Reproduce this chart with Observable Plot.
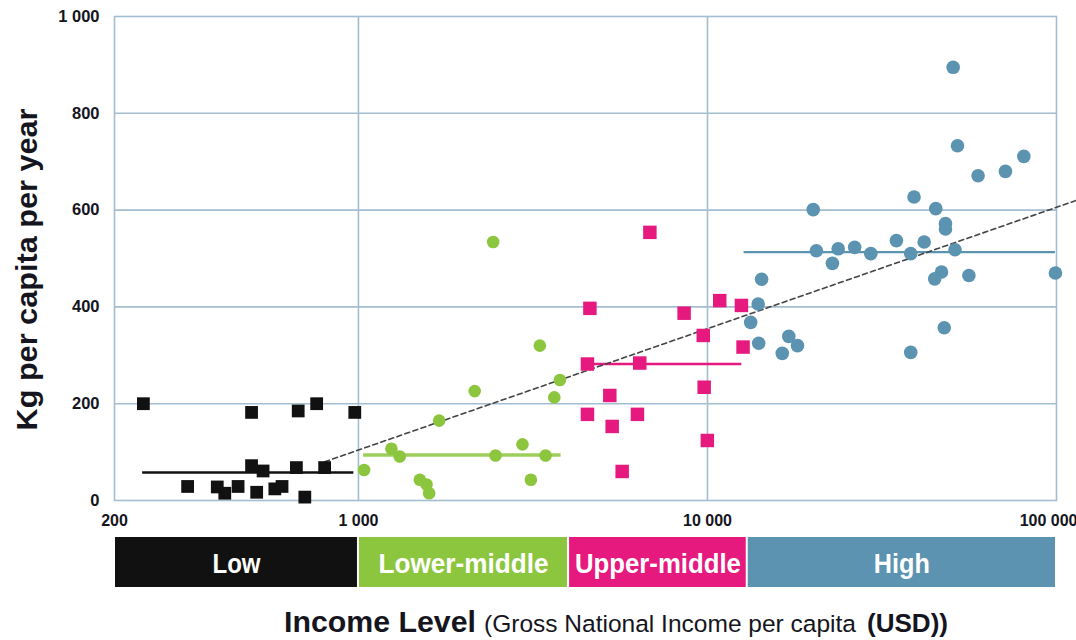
<!DOCTYPE html>
<html>
<head>
<meta charset="utf-8">
<script src="https://cdn.jsdelivr.net/npm/d3@7"></script>
<script src="https://cdn.jsdelivr.net/npm/@observablehq/plot@0.6"></script>
<style>
  html, body { margin: 0; padding: 0; background: #fff; }
  #wrap { position: relative; width: 1076px; height: 640px; overflow: hidden; }
  #wrap svg { display: block; }
  #title { position: absolute; left: 0; top: 590px; }
</style>
</head>
<body>
<div id="wrap"></div>
<script>
// ---- Data ----
const levels = ["Low", "Lower-middle", "Upper-middle", "High"];
const levelColors = ["#111111", "#8cc63f", "#e6197e", "#5b93b1"];

const lowIncome = [242, 494, 672, 759, 976, 494, 533, 664, 800, 324, 394, 414, 452, 511, 576, 604, 702];
const lowKg     = [200, 182, 185, 200, 182, 72, 61, 68, 68, 29, 28, 15, 29, 17, 24, 29, 7];

const lowerMidIncome = [2432, 3309, 3778, 3640, 2153, 1703, 1243, 1313, 2470, 2951, 3436, 1038, 1499, 1567, 1594, 3119];
const lowerMidKg     = [534, 320, 249, 213, 226, 165, 107, 91, 93, 116, 93, 63, 43, 33, 15, 43];

const upperMidIncome = [6839, 4604, 8571, 10842, 12510, 9726, 12646, 4530, 6397, 9784, 5250, 4530, 6301, 5333, 9990, 5696];
const upperMidKg     = [554, 397, 387, 413, 403, 341, 317, 282, 284, 234, 217, 178, 178, 153, 124, 60];

const highIncome = [50570, 52040, 59600, 71400, 80600, 39070, 45090, 48070, 48070, 20090, 34780, 41770, 51200, 38230, 20510, 23690, 26410, 29370, 22800, 46830, 44770, 56100, 99300, 47680, 38230, 14290, 13970, 13300, 14020, 17100, 18110, 16380];
const highKg     = [895, 733, 671, 680, 711, 627, 603, 572, 561, 601, 537, 534, 518, 510, 516, 520, 523, 510, 490, 472, 458, 465, 470, 357, 306, 457, 406, 368, 325, 339, 320, 304];

// group average lines
const avgStart = [240, 1031, 4430, 12690];
const avgEnd   = [967, 3794, 12500, 99000];
const avgKg    = [58, 94, 282, 513];

// trend line (log fit) end points
const trendIncome = [800, 115000];
const trendKg     = [80, 621];

// income bands for the legend bar
const bandFrom = [200, 1000, 4000, 13000];
const bandTo   = [1000, 4000, 13000, 100000];

const xTicks = [200, 1000, 10000];
const xLastTick = [100000];
const yTicks = [0, 200, 400, 600, 800, 1000];
const xGrid = [1000, 10000];
const yGrid = [200, 400, 600, 800];

const yTitle = "Kg per capita per year";
const xTitleMain = "Income Level";
const xTitleSub = "(Gross National Income per capita";
const xTitleUnit = "(USD))";

// ---- styling constants (not data) ----
const barLabelWidths = [48, 170, 166, 56];
const grid = "#a3bdd1";
const ink = "#151520";

// ---- Build tables ----
const zipPts = (xs, ys) => xs.map((x, i) => ({income: x, kg: ys[i]}));
const lowPts = zipPts(lowIncome, lowKg);
const lmPts = zipPts(lowerMidIncome, lowerMidKg);
const umPts = zipPts(upperMidIncome, upperMidKg);
const hiPts = zipPts(highIncome, highKg);
const avgs = levels.map((l, i) => ({level: l, x1: avgStart[i], x2: avgEnd[i], kg: avgKg[i], color: levelColors[i]}));
const trend = trendIncome.map((x, i) => ({income: x, kg: trendKg[i]}));
const bands = levels.map((l, i) => ({level: l, x1: bandFrom[i], x2: bandTo[i], mid: Math.sqrt(bandFrom[i] * bandTo[i]), color: levelColors[i]}));

const fmt = d => d3.format(",")(d).replace(/,/g, " ");

const chart = Plot.plot({
  width: 1076,
  height: 530,
  marginTop: 16,
  marginBottom: 30,
  marginLeft: 114,
  marginRight: 20,
  style: {fontFamily: "'Liberation Sans', Arial, sans-serif", fontSize: "16px", fontWeight: "bold", color: ink, background: "white", overflow: "visible"},
  x: {type: "log", domain: [200, 100000], label: null},
  y: {domain: [0, 1000], label: null},
  color: {type: "identity"},
  marks: [
    Plot.ruleY(yGrid, {stroke: grid, strokeWidth: 1.6}),
    Plot.ruleX(xGrid, {stroke: grid, strokeWidth: 1.6}),
    Plot.frame({stroke: grid, strokeWidth: 1.6}),
    Plot.axisY({ticks: yTicks, tickFormat: fmt, tickSize: 0, tickPadding: 15, label: null, fontSize: 16.5}),
    Plot.axisX({ticks: xTicks, tickFormat: fmt, tickSize: 0, tickPadding: 14, label: null}),
    Plot.axisX({ticks: xLastTick, tickFormat: fmt, tickSize: 0, tickPadding: 14, label: null, textAnchor: "end", dx: 21}),
    Plot.link(avgs, {x1: "x1", x2: "x2", y1: "kg", y2: "kg", stroke: "color", strokeWidth: d => d.level === "Lower-middle" ? 3.5 : d.level === "High" ? 2.2 : 2.6, strokeOpacity: d => d.level === "Lower-middle" ? 0.85 : 1}),
    Plot.line(trend, {x: "income", y: "kg", stroke: "#444", strokeWidth: 1.6, strokeDasharray: "5,3.5", clip: false}),
    Plot.dot(lowPts, {x: "income", y: "kg", symbol: "square", r: 7.2, fill: levelColors[0]}),
    Plot.dot(lmPts, {x: "income", y: "kg", symbol: "circle", r: 6.3, fill: levelColors[1]}),
    Plot.dot(umPts, {x: "income", y: "kg", symbol: "square", r: 7.6, fill: levelColors[2]}),
    Plot.dot(hiPts, {x: "income", y: "kg", symbol: "circle", r: 6.8, fill: levelColors[3]}),
    Plot.text([yTitle], {frameAnchor: "left", dx: -78, dy: 11, rotate: -90, textAnchor: "middle", lineAnchor: "bottom", text: d => d, fontSize: 29, fontWeight: "bold", fill: ink})
  ]
});
// stretch the y title to the reference length
d3.select(chart).selectAll("text").filter(function() { return this.textContent === yTitle; })
  .attr("textLength", 322).attr("lengthAdjust", "spacingAndGlyphs");

const bar = Plot.plot({
  width: 1076,
  height: 60,
  marginTop: 7,
  marginBottom: 3,
  marginLeft: 114,
  marginRight: 20,
  style: {background: "white", overflow: "visible"},
  x: {type: "log", domain: [200, 100000], axis: null},
  y: {domain: [0, 1], axis: null},
  color: {type: "identity"},
  marks: [
    Plot.rect(bands, {x1: "x1", x2: "x2", y1: 0, y2: 1, fill: "color", insetLeft: 1, insetRight: 1}),
    Plot.text(bands, {x: "mid", y: 0.5, dy: 2, text: "level", fill: "white", fontSize: 28, fontWeight: "bold", fontFamily: "'Liberation Sans', Arial, sans-serif"})
  ]
});
// condense bar labels (narrow face of the original)
d3.select(bar).selectAll("text").each(function() {
  const i = levels.indexOf(this.textContent);
  if (i >= 0) d3.select(this).attr("textLength", barLabelWidths[i]).attr("lengthAdjust", "spacingAndGlyphs");
});

// bottom title
const title = d3.create("svg").attr("id", "title").attr("width", 1076).attr("height", 50)
  .style("font-family", "'Liberation Sans', Arial, sans-serif").attr("fill", ink);
title.append("text").attr("x", 284).attr("y", 42).attr("font-size", 30).attr("font-weight", "bold")
  .attr("textLength", 192).attr("lengthAdjust", "spacingAndGlyphs").text(xTitleMain);
title.append("text").attr("x", 484).attr("y", 42).attr("font-size", 24.5)
  .attr("textLength", 372).attr("lengthAdjust", "spacingAndGlyphs").text(xTitleSub);
title.append("text").attr("x", 867).attr("y", 42).attr("font-size", 25).attr("font-weight", "bold")
  .attr("textLength", 81).attr("lengthAdjust", "spacingAndGlyphs").text(xTitleUnit);

const wrap = document.getElementById("wrap");
wrap.appendChild(chart);
wrap.appendChild(bar);
wrap.appendChild(title.node());
</script>
</body>
</html>
